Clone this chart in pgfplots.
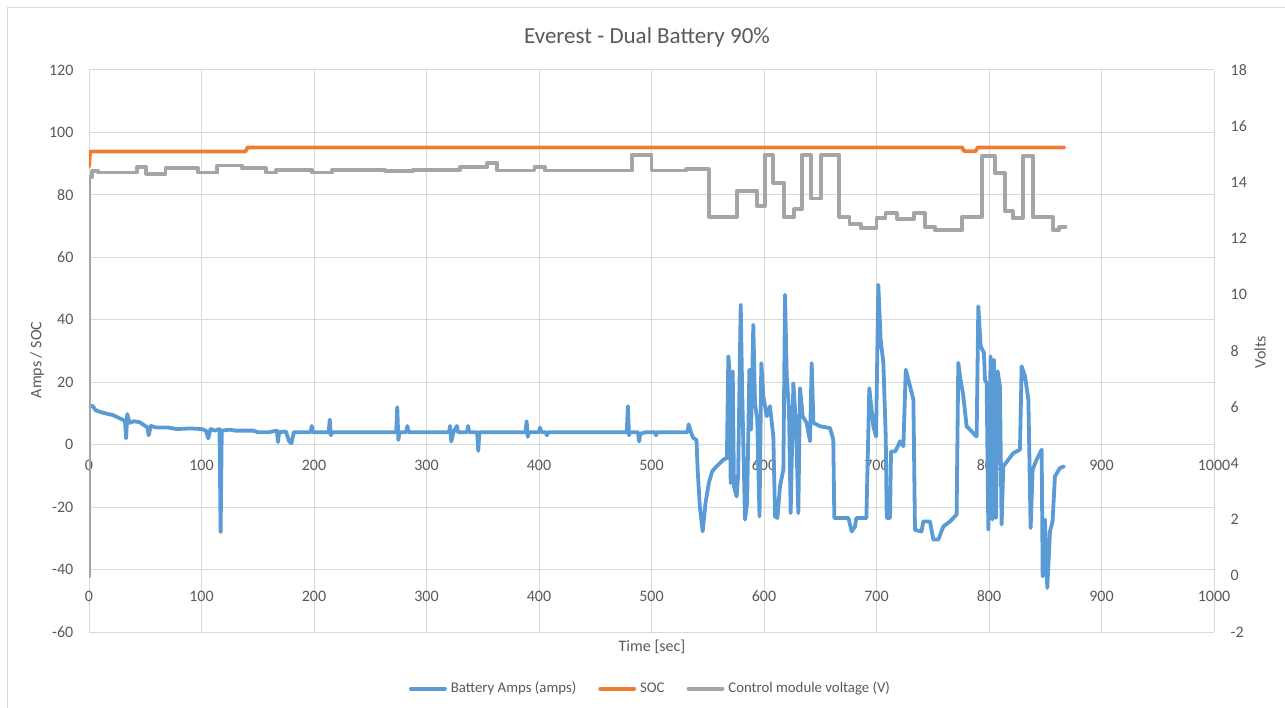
\documentclass[border=0pt]{standalone}
\usepackage{fontspec}
\setmainfont{Carlito}
\usepackage{pgfplots}
\pgfplotsset{compat=1.18}

\definecolor{ampsblue}{HTML}{5B9BD5}
\definecolor{socorange}{HTML}{ED7D31}
\definecolor{voltgrey}{HTML}{A5A5A5}
\definecolor{gridgrey}{HTML}{D9D9D9}
\definecolor{labelgrey}{HTML}{595959}

\newcommand{\ticksize}{\fontsize{8bp}{9.6bp}\selectfont}

\pgfplotsset{
  excelaxis/.style={
    scale only axis, width=562.5bp, height=281bp,
    at={(44.5bp,38bp)}, anchor=south west,
    xmin=0, xmax=1000, xtick={0,100,...,1000},
    axis line style={draw=none},
    major tick length=0pt,
    hide obscured x ticks=false, hide obscured y ticks=false,
    tick label style={font=\ticksize, text=labelgrey},
    /pgf/number format/assume math mode=true,
    /pgf/number format/1000 sep={},
    xticklabel style={anchor=north, yshift=-4bp},
  },
  series/.style={#1, line width=1.9bp, line join=round, line cap=round},
}

\begin{document}
\begin{tikzpicture}
\useasboundingbox (0,0) rectangle (642.5bp,354bp);
\draw[gridgrey, line width=0.5bp] (3.5bp,0) -- (3.5bp,350bp) -- (642.5bp,350bp);

% primary axis: amps and SOC
\begin{axis}[excelaxis,
  ymin=-60, ymax=120, ytick={-60,-40,...,120},
  axis x line*=middle, axis y line*=left,
  grid=major, grid style={gridgrey, line width=0.5bp},
  yticklabel style={anchor=east, xshift=-4.3bp},
]
\addplot[series=ampsblue] coordinates {
(0,12) (3,12.5) (6,11) (10,10.5) (15,10) (21,9.5) (27,8.5) (30,8) (32,7.5) (33,2) (34,9.8)
(36,7) (40,7.5) (45,7.2) (48,6.5) (52,5.5) (53,3) (55,6) (60,5.5) (70,5.5) (78,5) (90,5.2)
(100,5) (104,4.5) (106,2) (108,5) (112,4.5) (116,5) (117,-28) (118,4.5) (125,4.8) (130,4.5)
(146,4.5) (150,4) (160,4) (167,4.5) (168,0.8) (169,4) (175,4.2) (178,1) (180,0.5) (182,4)
(197,4) (198,6) (199,4) (213,4) (214,8) (215,3) (216,4) (273,4) (274,12) (275,1.5) (276,4)
(282,4) (283,6) (284,4) (320,4) (321,6) (322,1) (324,4) (327,6) (328,4) (336,4) (337,6)
(338,4) (345,4) (346,-2) (347,4) (388,4) (389,7.5) (390,2.5) (391,4) (400,4) (401,5.5)
(402,4) (406,4) (407,3) (408,4) (478,4) (479,12.3) (480,3) (481,4) (488,4) (489,1) (490,3.5)
(495,4) (503,4) (504,3) (505,4) (532,4) (533,6.5) (535,4) (537,2.2) (540,1.5) (541,-8)
(543,-20) (545.5,-27.8) (548,-18.7) (551,-12.2) (554,-8.5) (558,-6.9) (564,-4.8) (567,-4.3)
(568.3,28.3) (569,25.1) (570.4,-12.3) (572.2,23.5) (573.3,-13.4) (575.7,-16.6) (577,-10)
(579.3,44.8) (580.5,18.7) (583.1,-24) (585,-18.7) (587,24) (588.5,4.8) (590.5,38.4)
(592,13.3) (594,8) (596,-23) (597.6,26.1) (599.4,15.5) (602.4,9.1) (605.3,12.3) (608.3,2.6)
(609.8,-23) (611.9,-23.5) (614.2,-13.4) (617.2,-8) (618.7,48) (620.2,21.9) (622.2,11.2)
(623.7,-21.9) (626.1,19.7) (628.5,5.9) (630.5,-21.9) (632,18.1) (634.4,9.1) (637.9,7)
(640.9,1.1) (642.4,26.1) (643.9,7) (649.8,5.9) (658.7,5.3) (661.6,1.6) (662.5,-23.5)
(675,-23.5) (678,-27.8) (680.9,-26.2) (682,-23.5) (691,-23.5) (693.6,18.1) (697.2,5.9)
(699.6,2.6) (701.6,51.2) (703.7,33.6) (706.1,26.1) (708.2,2.6) (709.1,-23.5) (712,-23.5)
(712.9,-2.2) (716.5,-2.2) (719,-0.5) (720.9,1.1) (723.9,-0.5) (726,24) (728.3,20.8)
(732.8,14.4) (734.2,-27.3) (740,-27.8) (741.6,-24.6) (747.5,-24.6) (750.5,-30.4) (755,-30.4)
(759.4,-26.2) (765.3,-24.6) (771.2,-22.4) (772.7,26.2) (774.2,21.9) (777.2,15.5) (780.1,5.9)
(789,2.6) (790.5,44.3) (792.6,31.5) (795.5,29.4) (796.4,20.8) (797.9,19.7) (799.4,-27.2)
(801.4,28.3) (803,-24) (804.4,27.2) (806.2,-23.5) (807.7,23.5) (809.7,18.7) (811.2,-25.6)
(812.7,-7) (817.2,-4.8) (821.6,-2.7) (827.5,-1.6) (829,25.1) (832,21.9) (835,14.4)
(837,-26.7) (838.8,-8) (842.3,-4.8) (846.8,-1.6) (847.7,-42.2) (849.7,-24) (851.8,-45.9)
(854.2,-27.8) (856.5,-24.6) (858.6,-10.2) (863,-7.5) (866.6,-7)
};
\addplot[series=socorange] coordinates {
(0,89) (1,93.9) (139,93.9) (141,95.2) (776,95.2) (778,94) (788,94) (790,95.2) (867,95.2)
};
\end{axis}

% secondary axis: voltage
\begin{axis}[excelaxis,
  ymin=-2, ymax=18, ytick={-2,0,...,18},
  axis x line*=middle, axis y line*=right,
  yticklabel style={anchor=west, xshift=4.8bp},
  legend style={at={(0.5,-0.101)}, anchor=center, draw=none, fill=none,
    legend columns=3, font=\fontsize{7.4bp}{9bp}\selectfont, text=labelgrey,
    /tikz/every even column/.append style={column sep=9bp}},
]
\addlegendimage{series=ampsblue}
\addlegendentry{Battery Amps (amps)}
\addlegendimage{series=socorange}
\addlegendentry{SOC}
\addplot[series=voltgrey, const plot] coordinates {
(0,0) (0.5,14.2) (3,14.4) (8,14.35) (43,14.55) (51,14.3) (68,14.5) (97,14.35) (114,14.6)
(136,14.5) (157,14.35) (166,14.45) (198,14.35) (216,14.45) (263,14.4) (288,14.45) (330,14.56)
(354,14.68) (363,14.42) (396,14.56) (405,14.42) (483,14.98) (500,14.42) (531,14.47)
(551,12.78) (576,13.7) (594,13.16) (601,14.98) (608,13.97) (618,12.76) (627,13.04)
(634,14.98) (642,13.43) (651,14.98) (667,12.76) (676,12.52) (686,12.37) (700,12.72)
(708,12.9) (718,12.7) (733,12.9) (743,12.4) (752,12.3) (776,12.78) (794,14.95) (805,14.33)
(814,12.99) (821,12.72) (830,14.95) (839,12.76) (857,12.3) (862,12.42) (868,12.42)
};
\addlegendentry{Control module voltage (V)}
\end{axis}

\node[font=\fontsize{11.5bp}{13.8bp}\selectfont, text=labelgrey] at (323.5bp,335.5bp) {Everest - Dual Battery 90\%};
\node[font=\ticksize, text=labelgrey] at (326bp,30.5bp) {Time [sec]};
\node[font=\ticksize, text=labelgrey, rotate=90] at (18.5bp,174bp) {Amps / SOC};
\node[font=\ticksize, text=labelgrey, rotate=90] at (630bp,178bp) {Volts};
\end{tikzpicture}
\end{document}
